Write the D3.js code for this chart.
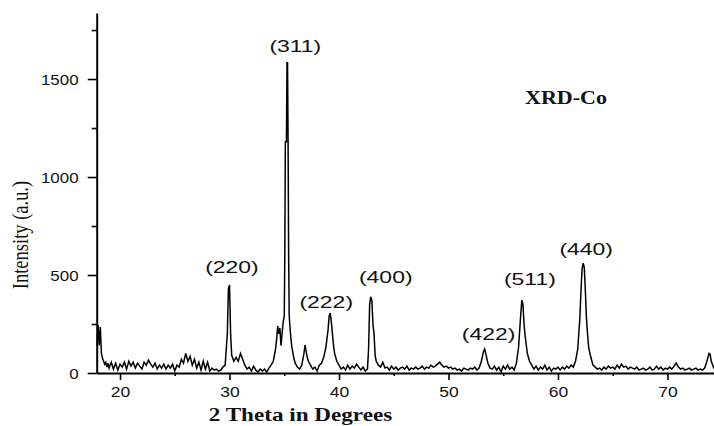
<!DOCTYPE html>
<html><head><meta charset="utf-8">
<script src="https://cdn.jsdelivr.net/npm/d3@7/dist/d3.min.js"></script>
<style>body{margin:0;background:#fff}svg{display:block}</style>
</head><body>
<svg id="c" width="714" height="426"></svg>
<script>
// ---- data ----
const twoTheta = [
17.9,18.0,18.1,18.2,18.3,18.4,18.5,18.6,18.7,18.8,18.9,19.0,19.2,19.4,19.6,19.8,20.0,20.2,20.4,20.6,20.8,21.0,21.2,21.4,21.6,21.8,22.0,22.2,22.4,22.6,22.8,23.0,23.2,23.4,23.6,23.8,24.0,24.2,24.4,24.6,24.8,25.0,25.2,25.4,25.6,25.8,26.0,26.2,26.4,26.6,26.8,27.0,27.2,27.4,27.6,27.8,28.0,28.2,28.4,28.6,28.8,29.0,29.2,29.4,29.6,29.8,29.9,30.0,30.1,30.2,30.4,30.6,30.8,31.0,31.2,31.4,31.6,31.8,32.0,32.2,32.4,32.6,32.8,33.0,33.2,33.4,33.6,33.8,34.0,34.2,34.3,34.4,34.5,34.6,34.7,34.8,34.9,35.0,35.05,35.1,35.2,35.25,35.3,35.35,35.4,35.45,35.5,35.6,35.7,35.8,35.9,36.0,36.2,36.4,36.6,36.8,36.9,37.0,37.1,37.2,37.4,37.6,37.8,38.0,38.2,38.4,38.6,38.8,39.0,39.1,39.2,39.3,39.4,39.5,39.6,39.8,40.0,40.2,40.4,40.6,40.8,41.0,41.2,41.4,41.6,41.8,42.0,42.2,42.4,42.6,42.7,42.8,42.9,43.0,43.1,43.2,43.3,43.4,43.6,43.8,44.0,44.2,44.4,44.6,44.8,45.0,45.2,45.4,45.6,45.8,46.0,46.2,46.4,46.6,46.8,47.0,47.2,47.4,47.6,47.8,48.0,48.2,48.4,48.6,48.8,49.0,49.2,49.4,49.6,49.8,50.0,50.2,50.4,50.6,50.8,51.0,51.2,51.4,51.6,51.8,52.0,52.2,52.4,52.6,52.8,53.0,53.2,53.3,53.4,53.6,53.8,54.0,54.2,54.4,54.6,54.8,55.0,55.2,55.4,55.6,55.8,56.0,56.2,56.4,56.6,56.7,56.8,56.9,57.0,57.2,57.4,57.6,57.8,58.0,58.2,58.4,58.6,58.8,59.0,59.2,59.4,59.6,59.8,60.0,60.2,60.4,60.6,60.8,61.0,61.2,61.4,61.6,61.8,62.0,62.1,62.2,62.3,62.4,62.5,62.6,62.7,62.8,63.0,63.2,63.4,63.6,63.8,64.0,64.2,64.4,64.6,64.8,65.0,65.2,65.4,65.6,65.8,66.0,66.2,66.4,66.6,66.8,67.0,67.2,67.4,67.6,67.8,68.0,68.2,68.4,68.6,68.8,69.0,69.2,69.4,69.6,69.8,70.0,70.2,70.4,70.6,70.8,71.0,71.2,71.4,71.6,71.8,72.0,72.2,72.4,72.6,72.8,73.0,73.2,73.4,73.6,73.8,73.9,74.0,74.2,74.3];
const intensity = [
140,245,140,235,100,75,60,45,55,30,50,25,55,20,50,15,45,30,55,20,60,35,55,25,50,35,20,55,40,65,45,30,50,20,40,25,45,20,40,25,45,10,40,30,70,50,100,60,85,40,70,25,55,15,60,20,55,10,25,15,20,10,15,30,40,200,430,449,200,90,60,80,60,100,70,40,20,30,10,35,15,5,20,10,20,5,25,40,60,120,170,240,200,230,140,200,260,290,600,1180,1180,1583,1583,1180,600,300,250,180,130,100,70,50,30,20,40,100,143,110,80,60,40,20,30,10,40,50,80,130,220,290,306,260,200,140,100,60,40,20,30,15,40,20,35,25,45,30,15,30,10,20,120,350,389,370,250,200,90,60,40,30,55,25,30,15,35,20,30,15,25,30,20,35,15,25,20,30,20,25,35,20,30,25,40,30,35,45,55,40,30,35,25,30,20,25,15,20,10,25,20,15,25,20,30,15,25,60,110,122,100,50,25,20,35,15,30,5,35,20,40,20,30,15,50,130,300,372,350,250,190,100,60,40,20,35,15,30,20,40,15,30,10,25,20,30,15,30,20,35,25,40,30,60,120,280,420,530,560,540,420,280,200,130,80,40,30,20,25,15,30,20,35,25,30,20,40,25,45,30,35,20,30,25,20,30,15,20,25,15,20,30,15,20,35,20,30,15,25,20,30,20,35,50,30,20,25,15,20,25,15,20,25,15,20,15,25,60,100,95,60,30,20];
const xTickValues = [20,30,40,50,60,70];
const xMinorTicks = [25,35,45,55,65];
const yTickValues = [0,500,1000,1500];
const yMinorTicks = [250,750,1250,1750];
const peakNames = ["(220)","(311)","(222)","(400)","(422)","(511)","(440)"];
const peakTheta = [29.95,35.28,39.2,42.9,53.3,56.7,62.3];
const peakInt = [449,1583,306,389,122,372,560];
// label layout offsets (px) relative to each peak top
const labelDx = [3,8,-4,15,4,8,3];
const labelDy = [-12,-11,-5,-14,-9,-15,-8];

// ---- chart ----
const svg = d3.select("#c");
const x = d3.scaleLinear().domain([17.87, 74.25]).range([96.7, 714]);
const y = d3.scaleLinear().domain([0, 1837]).range([373, 13]);

const pts = twoTheta.map((t,i)=>[t,intensity[i]]);
svg.append("path").datum(pts)
  .attr("fill","none").attr("stroke","#000").attr("stroke-width",1.5)
  .attr("stroke-linejoin","miter")
  .attr("d", d3.line().x(d=>x(d[0])).y(d=>y(d[1])));

// y axis
const yAx = svg.append("g").attr("transform","translate(96.7,0)")
  .call(d3.axisLeft(y).tickValues(yTickValues).tickSize(9).tickSizeOuter(0).tickFormat(d3.format("d")));
yAx.append("g").call(d3.axisLeft(y).tickValues(yMinorTicks).tickSize(5).tickFormat("")).select(".domain").remove();
yAx.selectAll("path.domain").attr("stroke","#000").attr("stroke-width",2);
yAx.selectAll("line").attr("stroke","#000").attr("stroke-width",1.6);
yAx.selectAll("text").attr("fill","#111").attr("font-family","Liberation Sans, Arial, sans-serif")
  .attr("font-size",14).attr("x",-15).attr("dy","0.36em").attr("transform","scale(1.21,1)");

// x axis
const xAx = svg.append("g").attr("transform","translate(0,373)")
  .call(d3.axisBottom(x).tickValues(xTickValues).tickSize(7).tickSizeOuter(0));
xAx.append("g").call(d3.axisBottom(x).tickValues(xMinorTicks).tickSize(3).tickFormat("")).select(".domain").remove();
xAx.selectAll("path.domain").attr("stroke","#000").attr("stroke-width",2);
xAx.selectAll("line").attr("stroke","#000").attr("stroke-width",1.6);
xAx.selectAll(".tick text")
  .attr("fill","#111").attr("font-family","Liberation Sans, Arial, sans-serif").attr("font-size",14)
  .attr("y",24).attr("dy",0).attr("x",0).attr("text-anchor","middle")
  .attr("transform","scale(1.25,1)");

// axis titles
svg.append("text").attr("transform","translate(300.5,421) scale(1.25,1)")
  .attr("text-anchor","middle").attr("font-family","Liberation Serif, Times New Roman, serif")
  .attr("font-weight","bold").attr("font-size",18.5).attr("fill","#111").text("2 Theta in Degrees");
svg.append("text").attr("transform","translate(28,235) scale(1.3,1) rotate(-90)")
  .attr("text-anchor","middle").attr("font-family","Liberation Serif, Times New Roman, serif")
  .attr("font-size",18.5).attr("fill","#111").text("Intensity (a.u.)");

// legend-like title
svg.append("text").attr("transform","translate(566,104) scale(1.19,1)")
  .attr("text-anchor","middle").attr("font-family","Liberation Serif, Times New Roman, serif")
  .attr("font-weight","bold").attr("font-size",18.5).attr("fill","#111").text("XRD-Co");

// peak labels
peakNames.forEach((n,i)=>{
  const px = x(peakTheta[i]) + labelDx[i];
  const py = y(peakInt[i]) + labelDy[i];
  svg.append("text").attr("transform",`translate(${px},${py}) scale(1.35,1)`)
    .attr("text-anchor","middle").attr("font-family","Liberation Sans, Arial, sans-serif")
    .attr("font-size",17).attr("fill","#111").text(n);
});
</script>
</body></html>
